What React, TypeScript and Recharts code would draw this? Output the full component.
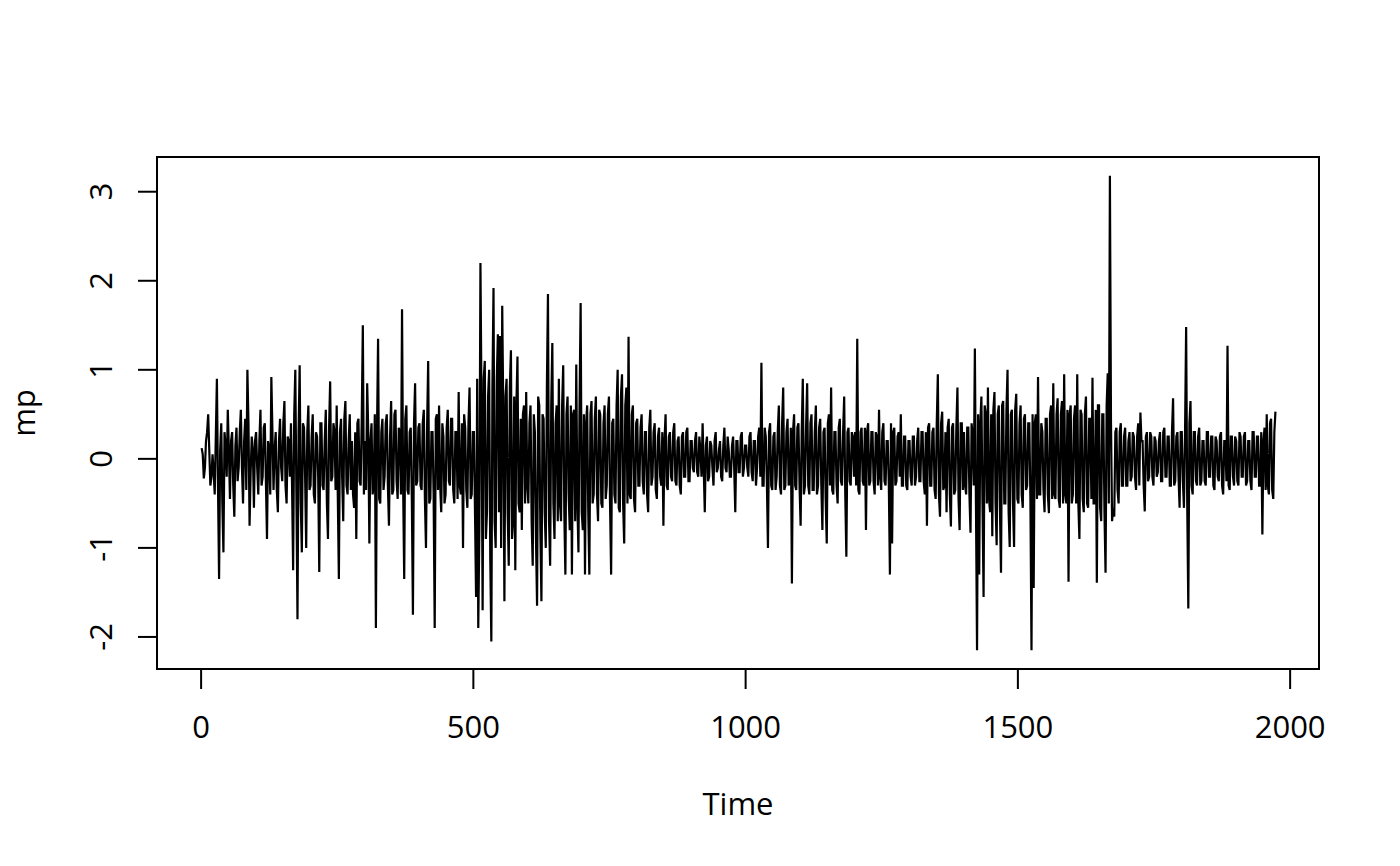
import { LineChart, Line, XAxis, YAxis, ReferenceArea, Label } from 'recharts';

// mp series in blocks of 100 time steps.
// "A" blocks hold the values at t = 1, 5, 9, ...; "B" blocks the values at t = 3, 7, 11, ...
const mpA0000 = [0.12, -0.22, 0.2, 0.5, -0.3, 0.05, -0.4, 0.9, -1.35, 0.4, -1.05, 0.15, 0.55, -0.45, 0.3, -0.65, 0.35, -0.1, 0.55, -0.5, 0.45, 1.0, -0.75, 0.25, -0.55];
const mpA0100 = [0.3, -0.4, 0.55, -0.2, 0.4, -0.9, 0.1, 0.92, -0.35, 0.3, -0.6, 0.45, -0.25, 0.65, -0.5, 0.2, 0.4, -1.25, 1.0, -1.8, 1.05, -1.05, 0.35, -1.0, 0.6];
const mpA0200 = [-0.3, 0.5, -0.5, 0.25, -1.27, 0.4, -0.35, 0.55, -0.9, 0.87, -0.2, 0.3, 0.6, -1.35, 0.45, -0.7, 0.65, -0.4, 0.5, 0.2, -0.55, -0.9, 0.45, -0.3, 1.5];
const mpA0300 = [0.2, 0.85, -0.95, 0.4, -0.3, -1.9, 1.35, -0.5, 0.45, -0.2, 0.5, -0.75, 0.65, -0.35, 0.55, -0.45, 0.3, 1.68, -1.35, 0.6, -0.4, 0.35, -1.75, 0.85, -0.25];
const mpA0400 = [0.4, -0.35, 0.55, -1.0, 1.1, -0.45, 0.3, -1.9, 0.5, 0.6, -0.6, 0.25, -0.4, 0.55, -0.3, 0.45, -0.5, 0.3, 0.75, -0.4, -1.0, 0.35, -0.55, 0.8, -0.4];
const mpA0500 = [0.3, -1.55, -1.9, 2.2, -1.7, 1.1, -0.6, 1.0, -2.05, 1.92, -1.0, 1.4, 1.38, 1.72, -1.6, 0.9, -1.2, 1.22, -0.7, -1.25, 1.15, -0.6, -0.8, 0.6, 0.75];
const mpA0600 = [-0.5, 0.6, -1.2, 0.3, -1.65, 0.6, -1.6, 0.45, -1.0, 1.85, -1.2, 1.3, -0.9, 0.6, 0.9, -0.7, 1.05, -1.3, 0.7, -0.8, -1.3, 0.55, 1.06, -1.05, 1.75];
const mpA0700 = [-0.8, -1.3, 0.6, -1.3, 0.65, -0.4, 0.7, -0.7, 0.5, -0.55, 0.6, -0.3, 0.7, -1.3, 0.45, -0.5, 1.0, -0.6, 0.95, -0.95, 0.8, 1.37, -0.45, 0.6, -0.6];
const mpA0800 = [0.45, -0.3, 0.5, -0.4, 0.3, -0.6, 0.55, -0.2, 0.4, -0.45, 0.35, -0.3, -0.75, 0.5, -0.35, 0.3, -0.25, 0.4, -0.3, 0.25, -0.4, 0.3, -0.2, 0.35, -0.25];
const mpA0900 = [0.2, -0.15, 0.3, -0.2, 0.1, 0.4, -0.6, 0.25, -0.2, 0.15, -0.3, 0.3, -0.1, 0.2, -0.25, 0.35, -0.15, 0.1, -0.2, 0.25, -0.6, 0.2, -0.15, 0.3, -0.1];
const mpA1000 = [0.15, -0.2, 0.3, -0.25, 0.2, -0.1, 0.35, 1.08, -0.3, 0.25, -1.0, 0.4, -0.35, 0.3, -0.2, 0.6, -0.4, 0.8, -0.3, 0.45, -0.25, -1.4, 0.5, -0.35, 0.4];
const mpA1100 = [-0.75, 0.9, -0.3, 0.85, -0.4, 0.5, -0.35, 0.6, -0.3, 0.45, -0.8, 0.35, -0.95, 0.5, 0.8, -0.4, 0.3, -0.5, 0.45, -0.3, 0.7, -1.1, 0.35, -0.3, 0.25];
const mpA1200 = [0.3, 1.35, -0.4, 0.35, -0.3, -0.8, 0.4, -0.25, 0.3, -0.4, 0.25, 0.55, -0.35, 0.4, -0.3, 0.2, -1.3, -0.95, 0.35, -0.25, 0.3, 0.5, -0.3, 0.25, -0.35];
const mpA1300 = [0.2, -0.3, 0.25, -0.2, 0.35, -0.25, 0.3, -0.4, -0.75, 0.4, -0.3, 0.35, -0.45, 0.95, -0.65, 0.53, -0.3, -0.6, 0.45, -0.76, 0.4, -0.35, 0.8, -0.8, 0.4];
const mpA1400 = [0.3, -0.4, 0.35, -0.83, 0.25, 1.24, -2.15, -1.3, 0.7, -1.55, 0.5, 0.8, -0.6, -0.87, 0.75, -0.97, 0.6, -1.28, 0.65, -0.5, 1.0, -0.99, 0.55, -0.99, 0.73];
const mpA1500 = [-0.5, 0.6, -0.55, 0.5, -0.3, 0.4, -2.15, -1.45, 0.5, 0.92, -0.4, 0.3, -0.6, 0.45, -0.61, 0.6, 0.85, -0.45, 0.68, -0.55, 0.65, 0.95, -0.5, -1.38, 0.6];
const mpA1600 = [-0.4, 0.6, 0.95, -0.9, 0.5, -0.6, 0.7, -0.55, 0.45, 0.91, -0.5, -1.39, 0.6, -0.7, 0.5, -1.28, 0.96, 3.18, -0.7, -0.65, 0.35, -0.5, 0.4, -0.3, 0.35];
const mpA1700 = [-0.3, 0.3, -0.2, 0.25, -0.35, 0.4, 0.52, 0.2, -0.59, 0.3, -0.2, 0.25, -0.3, 0.2, -0.15, 0.3, -0.25, 0.35, -0.2, 0.25, -0.3, 0.68, -0.25, 0.3, -0.55];
const mpA1800 = [0.3, -0.55, 1.48, -1.68, 0.65, -0.4, 0.3, -0.3, 0.35, -0.25, 0.2, -0.3, 0.3, -0.2, 0.25, -0.35, 0.2, -0.25, 0.3, -0.4, 0.2, 1.27, -0.35, 0.25, -0.3];
const mpA1900 = [0.2, -0.3, 0.25, -0.2, 0.3, -0.25, 0.2, -0.35, 0.3, -0.2, 0.25, -0.3, -0.85, 0.35, 0.5, -0.4, 0.45, -0.45, 0.53];

const mpB0000 = [0.05, -0.1, 0.3, 0.1, -0.2, -0.15, 0.25, -0.3, 0.1, -0.5, 0.3, -0.2, 0.1, 0.2, -0.3, 0.15, -0.25, 0.3, -0.1, 0.2, -0.35, 0.4, -0.15, 0.1, 0.2];
const mpB0100 = [-0.1, 0.2, -0.3, 0.35, -0.25, 0.2, -0.4, 0.3, 0.1, -0.35, 0.2, -0.1, 0.4, -0.3, 0.25, -0.2, -0.3, 0.5, -0.4, 0.3, -0.5, 0.4, -0.2, 0.3, -0.35];
const mpB0200 = [0.25, -0.4, 0.3, -0.2, 0.4, -0.3, 0.2, -0.5, 0.35, -0.25, 0.4, -0.35, -0.4, 0.3, -0.2, 0.45, -0.3, 0.2, -0.35, -0.4, 0.3, 0.4, -0.25, 0.45, -0.4];
const mpB0300 = [-0.35, 0.3, 0.2, -0.4, 0.5, 0.3, -0.45, 0.3, -0.35, 0.4, -0.3, 0.25, -0.4, 0.5, -0.25, 0.35, -0.4, -0.3, 0.45, -0.35, 0.3, -0.45, 0.4, -0.3, 0.35];
const mpB0400 = [-0.3, 0.4, -0.45, 0.35, -0.5, 0.3, -0.4, 0.45, -0.35, -0.3, 0.4, -0.5, 0.35, -0.25, 0.45, -0.35, 0.3, -0.45, -0.3, 0.4, 0.5, -0.35, 0.4, -0.45, 0.3];
const mpB0500 = [-0.6, 0.9, -0.8, 0.6, 0.9, -0.9, 0.7, -1.1, 0.8, -0.7, 0.9, -0.6, -1.0, 0.5, 0.7, -0.6, 0.8, -0.9, 0.7, 0.6, -0.5, 0.45, 0.5, -0.5, -0.3];
const mpB0600 = [0.4, -0.7, 0.5, -0.9, 0.7, -0.8, 0.5, -0.6, 0.8, -0.7, 0.6, -0.5, 0.4, -0.7, -0.5, 0.6, -0.6, 0.5, -0.4, 0.6, 0.5, -0.7, -0.5, 0.6, -0.6];
const mpB0700 = [0.5, 0.4, -0.6, 0.5, -0.5, 0.45, -0.4, 0.55, -0.5, 0.4, -0.45, 0.5, -0.5, 0.4, -0.4, 0.6, -0.55, 0.7, -0.5, 0.6, -0.5, -0.4, 0.5, -0.45, 0.4];
const mpB0800 = [-0.3, 0.35, -0.25, 0.3, -0.4, 0.35, -0.3, 0.3, -0.35, 0.25, -0.2, 0.3, 0.2, -0.3, 0.25, -0.2, 0.3, -0.25, 0.2, -0.3, 0.25, -0.2, 0.3, -0.25, 0.2];
const mpB0900 = [-0.1, 0.2, -0.15, 0.25, -0.2, -0.1, 0.15, -0.25, 0.2, -0.1, 0.2, -0.15, 0.1, -0.2, 0.15, -0.1, 0.25, -0.2, 0.15, -0.1, 0.2, -0.15, 0.25, -0.2, 0.15];
const mpB1000 = [-0.1, 0.25, -0.15, 0.2, -0.3, 0.25, -0.2, -0.3, 0.35, -0.25, 0.3, -0.3, 0.25, -0.35, 0.3, -0.3, 0.4, -0.35, 0.3, -0.3, 0.35, 0.3, -0.3, 0.35, -0.3];
const mpB1100 = [0.3, -0.4, 0.35, -0.3, 0.4, -0.35, 0.3, -0.4, 0.35, -0.3, 0.3, -0.45, 0.4, -0.3, -0.35, 0.3, -0.3, 0.35, -0.25, 0.3, -0.4, 0.3, -0.25, 0.3, -0.2];
const mpB1200 = [-0.3, -0.35, 0.3, -0.25, 0.35, 0.3, -0.3, 0.3, -0.25, 0.3, -0.3, -0.2, 0.3, -0.25, 0.2, -0.3, 0.4, 0.3, -0.3, 0.25, -0.2, -0.3, 0.25, -0.3, 0.2];
const mpB1300 = [-0.2, 0.25, -0.3, 0.2, -0.25, 0.3, -0.25, 0.3, 0.35, -0.3, 0.3, -0.35, 0.4, -0.4, 0.4, -0.35, 0.3, 0.35, -0.4, 0.35, -0.4, 0.35, -0.45, 0.4, -0.35];
const mpB1400 = [-0.3, 0.35, -0.4, 0.4, -0.3, -0.5, 0.5, 0.4, -0.5, 0.6, -0.5, -0.45, 0.5, 0.55, -0.5, 0.5, -0.55, 0.6, -0.5, 0.55, -0.6, 0.5, -0.5, 0.55, -0.45];
const mpB1500 = [0.4, -0.4, 0.45, -0.35, 0.4, -0.45, 0.5, 0.4, -0.45, -0.4, 0.4, -0.35, 0.45, -0.4, 0.5, -0.45, -0.4, 0.5, -0.45, 0.5, -0.5, -0.4, 0.55, 0.5, -0.5];
const mpB1600 = [0.45, -0.5, -0.5, 0.55, -0.45, 0.5, -0.5, 0.45, -0.45, -0.5, 0.55, 0.6, -0.55, 0.5, -0.6, 0.6, -0.5, 0.4, -0.55, 0.3, -0.35, 0.3, -0.3, 0.25, -0.3];
const mpB1700 = [0.2, -0.25, 0.3, -0.2, 0.25, -0.3, 0.2, -0.3, 0.25, -0.25, 0.3, -0.2, 0.25, -0.2, 0.2, -0.25, 0.3, -0.2, 0.25, -0.3, 0.3, -0.3, 0.25, -0.2, 0.3];
const mpB1800 = [-0.25, 0.3, -0.5, 0.4, -0.3, 0.3, -0.25, 0.25, -0.3, 0.2, -0.25, 0.3, -0.2, 0.25, -0.3, 0.25, -0.2, 0.25, -0.3, 0.2, -0.25, -0.3, 0.25, -0.2, 0.25];
const mpB1900 = [-0.25, 0.3, -0.2, 0.25, -0.3, 0.2, -0.25, 0.3, -0.2, 0.25, -0.3, 0.3, 0.2, -0.35, -0.3, 0.4, -0.35, 0.3];

const mpA = [
  ...mpA0000, ...mpA0100, ...mpA0200, ...mpA0300, ...mpA0400,
  ...mpA0500, ...mpA0600, ...mpA0700, ...mpA0800, ...mpA0900,
  ...mpA1000, ...mpA1100, ...mpA1200, ...mpA1300, ...mpA1400,
  ...mpA1500, ...mpA1600, ...mpA1700, ...mpA1800, ...mpA1900,
];
const mpB = [
  ...mpB0000, ...mpB0100, ...mpB0200, ...mpB0300, ...mpB0400,
  ...mpB0500, ...mpB0600, ...mpB0700, ...mpB0800, ...mpB0900,
  ...mpB1000, ...mpB1100, ...mpB1200, ...mpB1300, ...mpB1400,
  ...mpB1500, ...mpB1600, ...mpB1700, ...mpB1800, ...mpB1900,
];

const data: { time: number; mp: number }[] = [];
mpA.forEach((v, i) => {
  data.push({ time: 1 + i * 4, mp: v });
  if (i < mpB.length) data.push({ time: 3 + i * 4, mp: mpB[i] });
});

const xTicks = [0, 500, 1000, 1500, 2000];
const yTicks = [-2, -1, 0, 1, 2, 3];
const xDomain: [number, number] = [-81, 2053];
const yDomain: [number, number] = [-2.36, 3.39];

const FONT = '"Open Sans", "Noto Sans", sans-serif';
const FS = 31;

const XTick = ({ x, y, payload }: any) => (
  <text x={x} y={y + 49} textAnchor="middle" fontFamily={FONT} fontSize={FS} fill="#000">
    {payload.value}
  </text>
);

const YTick = ({ x, y, payload }: any) => (
  <text
    x={x - 26}
    y={y}
    textAnchor="middle"
    transform={`rotate(-90, ${x - 26}, ${y})`}
    fontFamily={FONT}
    fontSize={FS}
    fill="#000"
  >
    {payload.value}
  </text>
);

const TimeLabel = ({ viewBox }: any) => (
  <text x={viewBox.x + viewBox.width / 2} y={viewBox.y + 146} textAnchor="middle" fontFamily={FONT} fontSize={FS} fill="#000">
    Time
  </text>
);

const MpLabel = ({ viewBox }: any) => {
  const cx = viewBox.x - 62;
  const cy = viewBox.y + viewBox.height / 2;
  return (
    <text x={cx} y={cy} textAnchor="middle" transform={`rotate(-90, ${cx}, ${cy})`} fontFamily={FONT} fontSize={FS} fill="#000">
      mp
    </text>
  );
};

export default function App() {
  return (
    <div style={{ position: 'absolute', left: 0, top: 0, background: '#fff' }}>
      <LineChart width={1400} height={866} data={data} margin={{ top: 157, right: 81, bottom: 137, left: 97 }}>
        <XAxis
          dataKey="time"
          type="number"
          domain={xDomain}
          allowDataOverflow
          ticks={xTicks}
          interval={0}
          height={60}
          axisLine={false}
          tickSize={20}
          tickMargin={0}
          tickLine={{ stroke: '#000', strokeWidth: 2 }}
          tick={<XTick />}
        >
          <Label content={<TimeLabel />} />
        </XAxis>
        <YAxis
          type="number"
          domain={yDomain}
          allowDataOverflow
          ticks={yTicks}
          interval={0}
          width={60}
          axisLine={false}
          tickSize={19}
          tickMargin={0}
          tickLine={{ stroke: '#000', strokeWidth: 2 }}
          tick={<YTick />}
        >
          <Label content={<MpLabel />} />
        </YAxis>
        <ReferenceArea x1={xDomain[0]} x2={xDomain[1]} y1={yDomain[0]} y2={yDomain[1]} fill="none" fillOpacity={0} stroke="#000" strokeWidth={2} strokeOpacity={1} />
        <Line type="linear" dataKey="mp" stroke="#000" strokeWidth={2.2} dot={false} activeDot={false} isAnimationActive={false} />
      </LineChart>
    </div>
  );
}
